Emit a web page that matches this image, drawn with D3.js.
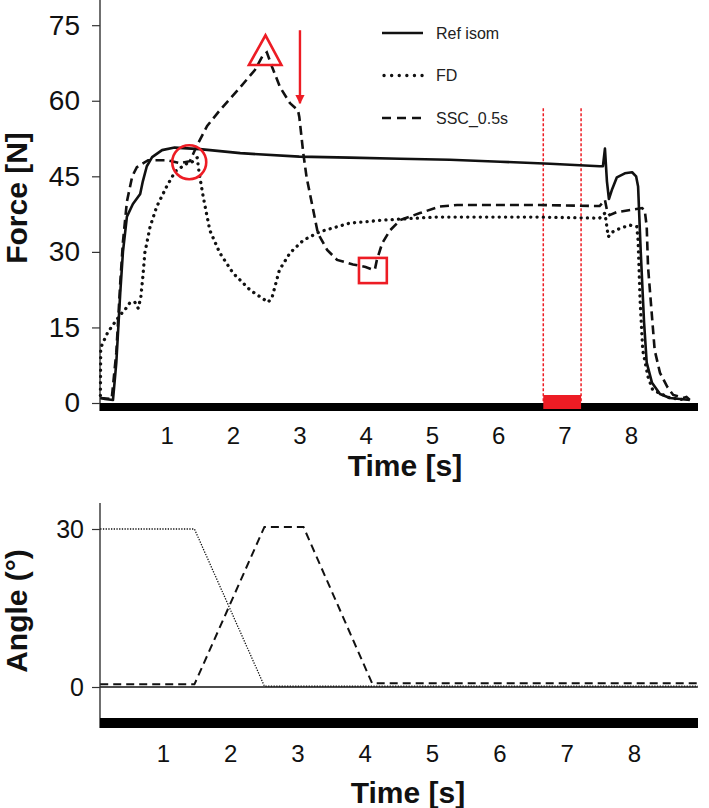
<!DOCTYPE html>
<html><head><meta charset="utf-8">
<script src="https://cdn.jsdelivr.net/npm/d3@7"></script>
<style>
html,body{margin:0;padding:0;background:#fff;}
svg{display:block;font-family:"Liberation Sans",Arial,Helvetica,sans-serif;}
</style></head><body>
<svg id="c" width="709" height="808"></svg>
<script>
// ---------- DATA ----------
const timeTicks = [1,2,3,4,5,6,7,8];
const forceTicks = [0,15,30,45,60,75];
const angleTicks = [0,30];
const seriesNames = ["Ref isom","FD","SSC_0.5s"];

// Force traces: [time s, force N]
const refIsomForce = [[0,1.0],[0.07,0.8],[0.19,0.6],[0.24,8],[0.30,22],[0.34,30],[0.40,37],[0.49,39.5],[0.60,41.5],[0.64,44],[0.70,47],[0.78,48.8],[0.93,50.2],[1.12,50.7],[1.50,50.4],[2.11,49.6],[3.00,48.9],[3.76,48.7],[4.52,48.5],[5.27,48.3],[6.03,47.9],[6.78,47.5],[7.53,47.0],[7.58,47.0],[7.61,50.5],[7.64,44],[7.67,40.5],[7.72,42.5],[7.79,44.8],[7.91,45.6],[8.02,45.8],[8.08,45.0],[8.11,43],[8.15,30],[8.20,16],[8.24,8],[8.32,4],[8.44,1.8],[8.59,1.0],[8.89,0.6]];
const fdForce = [[0,1.5],[0.005,11],[0.04,12],[0.11,14],[0.19,15.5],[0.30,17.5],[0.37,18.5],[0.45,20],[0.52,20],[0.57,18.8],[0.61,21],[0.64,25],[0.67,29.8],[0.75,35],[0.85,39],[1.00,43],[1.13,46],[1.31,47.6],[1.38,47.8],[1.46,48.7],[1.49,45.6],[1.55,41],[1.65,34.3],[1.80,29.8],[2.00,25.8],[2.26,22.4],[2.53,20],[2.59,21],[2.70,26.4],[2.86,29.8],[3.06,32.3],[3.31,34.0],[3.76,35.7],[4.26,36.3],[5.02,36.9],[6.63,36.9],[7.53,36.7],[7.61,37.7],[7.66,33],[7.73,34],[7.84,34.7],[7.99,35.3],[8.09,35],[8.11,32.3],[8.14,20.4],[8.18,10.5],[8.26,5.2],[8.33,2.6],[8.59,1.0],[8.84,0.6]];
const sscForce = [[0,1.0],[0.17,0.8],[0.24,10],[0.30,24],[0.34,32],[0.40,40],[0.48,45],[0.55,46.8],[0.72,48.2],[1.00,48.2],[1.20,47.6],[1.35,48.0],[1.46,51.2],[1.61,55.0],[1.80,58.1],[2.11,62.7],[2.33,66.1],[2.45,69.0],[2.51,69.6],[2.59,66.7],[2.71,62.7],[2.86,59.5],[2.98,58.1],[3.00,56.8],[3.06,49.6],[3.11,44.8],[3.21,38.3],[3.28,33.7],[3.42,30.4],[3.57,28.4],[3.81,27.5],[4.00,27.0],[4.10,26.5],[4.14,26.5],[4.17,28.4],[4.25,31.7],[4.37,34.3],[4.52,36.3],[4.82,37.7],[5.12,39.0],[5.38,39.3],[6.63,39.3],[7.53,39.1],[7.61,40.3],[7.64,38.3],[7.68,37.3],[7.79,37.9],[7.99,38.3],[8.17,38.7],[8.21,38.3],[8.24,35],[8.26,27],[8.32,17.1],[8.36,10.5],[8.44,6],[8.55,3.2],[8.64,1.6],[8.79,1.0],[8.84,1.2],[8.89,0.6]];

// Angle traces: [time s, angle deg]
const refIsomAngle = [[0.07,0],[8.95,0]];
const fdAngle = [[0.07,30],[1.47,30],[2.51,0.15],[8.95,0.15]];
const sscAngle = [[0.07,0.5],[1.47,0.5],[2.51,30.4],[3.09,30.4],[4.11,0.7],[8.95,0.7]];

// Annotations (data units)
const circleMark = [1.34, 47.8];
const triangleMark = [[2.24,67.1],[2.73,67.1],[2.49,73.0]];
const squareMark = [[3.90,28.8],[4.32,23.8]];
const arrowMark = [[3.01,74.0],[3.01,59.5]];
const windowMark = [6.68, 7.25];
const windowTop = 58.5;

// ---------- DRAW ----------
const svg = d3.select('#c');
const RED = '#ed1c24', INK = '#111';

svg.append('defs').append('marker').attr('id','ah')
  .attr('viewBox','0 0 10 10').attr('refX',9).attr('refY',5)
  .attr('markerWidth',4).attr('markerHeight',4).attr('orient','auto')
  .attr('markerUnits','strokeWidth')
  .append('path').attr('d','M0,0L10,5L0,10Z').attr('fill',RED);

// ===== Top panel =====
const xT = d3.scaleLinear().domain([0,9]).range([100.4, 697.1]);
const yT = d3.scaleLinear().domain([0,80]).range([403,0]);

svg.append('line').attr('x1',100).attr('x2',100).attr('y1',0).attr('y2',411)
  .attr('stroke','#333').attr('stroke-width',1.4);

const gyT = svg.append('g').attr('transform','translate(100,0)')
  .call(d3.axisLeft(yT).tickValues(forceTicks).tickSize(8).tickPadding(12));
gyT.select('.domain').remove();
gyT.selectAll('line').attr('stroke','#333').attr('stroke-width',1.2);
gyT.selectAll('text').attr('font-size',28).attr('fill',INK).attr('font-family','Liberation Sans, Arial, sans-serif');

const gxT = svg.append('g').attr('transform','translate(0,411)')
  .call(d3.axisBottom(xT).tickValues(timeTicks).tickSize(0).tickPadding(16));
gxT.select('.domain').remove();
gxT.selectAll('text').attr('font-size',24).attr('fill',INK).attr('font-family','Liberation Sans, Arial, sans-serif');

// red window
windowMark.forEach(t=>{
  svg.append('line').attr('x1',xT(t)).attr('x2',xT(t)).attr('y1',yT(windowTop)).attr('y2',yT(0))
    .attr('stroke',RED).attr('stroke-width',1.5).attr('stroke-dasharray','3,2');
});

// bar
svg.append('rect').attr('x',100).attr('y',yT(0)).attr('width',598).attr('height',8).attr('fill','#000');
svg.append('rect').attr('x',xT(windowMark[0])).attr('y',395)
  .attr('width',xT(windowMark[1])-xT(windowMark[0])).attr('height',14).attr('fill',RED);

const lineT = d3.line().x(d=>xT(d[0])).y(d=>yT(d[1]));
svg.append('path').datum(refIsomForce).attr('d',lineT).attr('fill','none')
  .attr('stroke',INK).attr('stroke-width',2.6).attr('stroke-linejoin','round');
svg.append('path').datum(fdForce).attr('d',lineT).attr('fill','none')
  .attr('stroke',INK).attr('stroke-width',3.3).attr('stroke-linecap','round')
  .attr('stroke-dasharray','0.1,6.2');
svg.append('path').datum(sscForce).attr('d',lineT).attr('fill','none')
  .attr('stroke',INK).attr('stroke-width',2.6).attr('stroke-dasharray','9,5');

// annotations
svg.append('circle').attr('cx',xT(circleMark[0])).attr('cy',yT(circleMark[1])).attr('r',17)
  .attr('fill','none').attr('stroke',RED).attr('stroke-width',2.6);
svg.append('path').datum(triangleMark)
  .attr('d',d3.line().x(d=>xT(d[0])).y(d=>yT(d[1])).curve(d3.curveLinearClosed))
  .attr('fill','none').attr('stroke',RED).attr('stroke-width',2.6).attr('stroke-linejoin','miter');
svg.append('rect').attr('x',xT(squareMark[0][0])).attr('y',yT(squareMark[0][1]))
  .attr('width',xT(squareMark[1][0])-xT(squareMark[0][0]))
  .attr('height',yT(squareMark[1][1])-yT(squareMark[0][1]))
  .attr('fill','none').attr('stroke',RED).attr('stroke-width',2.6);
svg.append('line').attr('x1',xT(arrowMark[0][0])).attr('y1',yT(arrowMark[0][1]))
  .attr('x2',xT(arrowMark[1][0])).attr('y2',yT(arrowMark[1][1]))
  .attr('stroke',RED).attr('stroke-width',2.4).attr('marker-end','url(#ah)');

// legend
const legStyles = [
  {w:2.6, dash:null, cap:'butt'},
  {w:3.3, dash:'0.1,7.5', cap:'round'},
  {w:2.6, dash:'9,6', cap:'butt'}
];
seriesNames.forEach((n,i)=>{
  const y = 33 + i*42.5;
  const s = legStyles[i];
  const ln = svg.append('line').attr('x1', i===1?384:382).attr('x2',423).attr('y1',y).attr('y2',y)
    .attr('stroke',INK).attr('stroke-width',s.w).attr('stroke-linecap',s.cap);
  if (s.dash) ln.attr('stroke-dasharray',s.dash);
  svg.append('text').attr('x',436).attr('y',y+5.5).attr('font-size',16).attr('fill','#222').text(n);
});

// titles
svg.append('text').attr('transform','translate(27,198) rotate(-90)').attr('text-anchor','middle')
  .attr('font-size',30).attr('font-weight','bold').attr('fill',INK).text('Force [N]');
svg.append('text').attr('x',405).attr('y',476).attr('text-anchor','middle')
  .attr('font-size',30).attr('font-weight','bold').attr('fill',INK).text('Time [s]');

// ===== Bottom panel =====
const xB = d3.scaleLinear().domain([0,9]).range([95.5, 701.2]);
const yB = d3.scaleLinear().domain([0,30]).range([687,529]);

svg.append('line').attr('x1',100).attr('x2',100).attr('y1',503).attr('y2',728)
  .attr('stroke','#333').attr('stroke-width',1.4);
const gyB = svg.append('g').attr('transform','translate(100,0)')
  .call(d3.axisLeft(yB).tickValues(angleTicks).tickSize(8).tickPadding(8));
gyB.select('.domain').remove();
gyB.selectAll('line').attr('stroke','#333').attr('stroke-width',1.2);
gyB.selectAll('text').attr('font-size',25).attr('fill',INK).attr('font-family','Liberation Sans, Arial, sans-serif');

svg.append('rect').attr('x',100).attr('y',718).attr('width',598).attr('height',10).attr('fill','#000');

const gxB = svg.append('g').attr('transform','translate(0,728)')
  .call(d3.axisBottom(xB).tickValues(timeTicks).tickSize(0).tickPadding(17));
gxB.select('.domain').remove();
gxB.selectAll('text').attr('font-size',24).attr('fill',INK).attr('font-family','Liberation Sans, Arial, sans-serif');

const lineB = d3.line().x(d=>xB(d[0])).y(d=>yB(d[1]));
svg.append('path').datum(refIsomAngle).attr('d',lineB).attr('fill','none')
  .attr('stroke',INK).attr('stroke-width',1.5);
svg.append('path').datum(fdAngle).attr('d',lineB).attr('fill','none')
  .attr('stroke',INK).attr('stroke-width',1.3).attr('stroke-dasharray','1.3,1.4');
svg.append('path').datum(sscAngle).attr('d',lineB).attr('fill','none')
  .attr('stroke',INK).attr('stroke-width',2).attr('stroke-dasharray','8,5');

svg.append('text').attr('transform','translate(27,611) rotate(-90)').attr('text-anchor','middle')
  .attr('font-size',30).attr('font-weight','bold').attr('fill',INK).text('Angle (°)');
svg.append('text').attr('x',408).attr('y',803).attr('text-anchor','middle')
  .attr('font-size',30).attr('font-weight','bold').attr('fill',INK).text('Time [s]');
</script></body></html>
